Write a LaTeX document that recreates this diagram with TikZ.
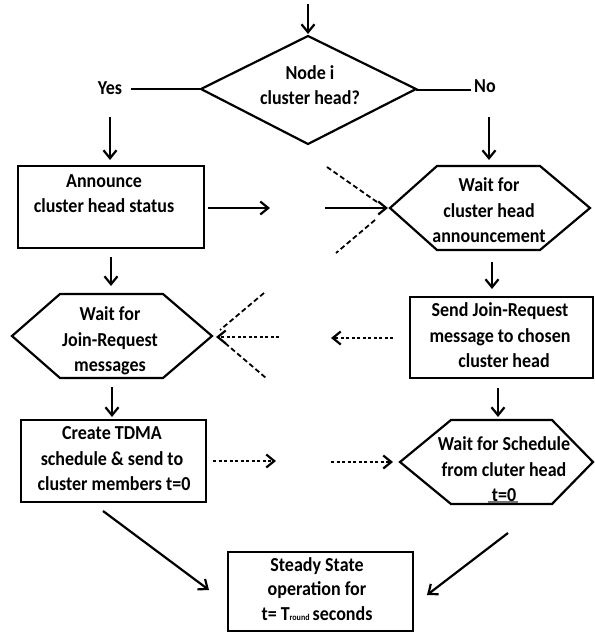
\documentclass[tikz,border=0pt]{standalone}
\usepackage{fontspec}
\usepackage{graphicx}
\setmainfont{Carlito}
\usetikzlibrary{arrows.meta}
\newcommand\mytext[1]{\scalebox{1}[1.1]{\begin{tabular}{@{}c@{}}#1\end{tabular}}}
\begin{document}
\begin{tikzpicture}[x=1pt,y=-1pt,line width=2.2pt,line join=miter,
  lbl/.style={font=\bfseries\fontsize{18}{23}\selectfont,inner sep=0pt},
  lblb/.style={font=\bfseries\fontsize{18}{22}\selectfont,inner sep=0pt},
  arr/.style={-{Straight Barb[length=8pt,width=13pt]}},
  dotarr/.style={arr,dash pattern=on 3pt off 2.5pt},
  cross/.style={line width=1.8pt,dash pattern=on 5pt off 3pt}]
\useasboundingbox (0,0) rectangle (595,633);

% shapes
\draw (308,36) -- (416,89) -- (308,144) -- (201,89) -- cycle;
\draw (18,166) rectangle (204,248);
\draw (390,208) -- (437,166) -- (540,166) -- (590,208) -- (540,250) -- (437,250) -- cycle;
\draw (12,336) -- (60,294) -- (163,294) -- (212,336) -- (163,378) -- (60,378) -- cycle;
\draw (410,297) rectangle (593,378);
\draw (21,420) rectangle (206,502);
\draw (400,462) -- (451,420) -- (552,420) -- (593,462) -- (552,504) -- (451,504) -- cycle;
\draw (228,552) rectangle (413,631);

% texts
\node[lbl] (dec) at (310,87) {\mytext{Node i\\cluster head?}};
\node[lbl] (yes) at (110,89) {\mytext{Yes}};
\node[lbl] (no) at (485,87) {\mytext{No}};
\node[lbl] (ann) at (104,195) {\mytext{Announce\\cluster head status}};
\node[lbl] (wch) at (489,212) {\mytext{Wait for\\cluster head\\announcement}};
\node[lbl] (wjr) at (110,341) {\mytext{Wait for\\Join-Request\\messages}};
\node[lbl] (sjr) at (500,337) {\mytext{Send Join-Request\\message to chosen\\\ \ cluster head}};
\node[lbl] (tdma) at (112,460) {\mytext{Create TDMA\\schedule \& send to\\\ cluster members t=0}};
\node[lbl] (wsc) at (504,471) {\mytext{Wait for Schedule\\from cluter head\\t=0}};
\node[lblb] (ss) at (317,591) {\mytext{Steady State\\operation for\\t= T\raisebox{-0.5pt}{\fontsize{8}{8}\selectfont round}\,seconds}};

% underline of t=0
\coordinate (u1) at (488,502); \coordinate (u2) at (518,502);
\draw[line width=1.3pt,black!55] (u1) -- (u2);

% connector end points
\coordinate (a1) at (308,4);   \coordinate (a2) at (308,34);
\coordinate (y1) at (131,89);  \coordinate (y2) at (201,89);
\coordinate (n1) at (416,90);  \coordinate (n2) at (471,90);
\coordinate (l1) at (110,117); \coordinate (l2) at (110,160);
\coordinate (r1) at (489,117); \coordinate (r2) at (489,160);
\coordinate (h1) at (208,208); \coordinate (h2) at (270,208);
\coordinate (h3) at (325,208); \coordinate (h4) at (388,208);
\coordinate (c1) at (327,167); \coordinate (c2) at (377,202);
\coordinate (c3) at (375,220); \coordinate (c4) at (336,253);
\coordinate (l3) at (111,257); \coordinate (l4) at (111,286);
\coordinate (r3) at (492,262); \coordinate (r4) at (492,289);
\coordinate (d1) at (279,337); \coordinate (d2) at (216,337);
\coordinate (d3) at (393,338); \coordinate (d4) at (331,338);
\coordinate (c5) at (264,293); \coordinate (c6) at (220,330);
\coordinate (c7) at (225,343); \coordinate (c8) at (266,378);
\coordinate (l5) at (112,387); \coordinate (l6) at (112,417);
\coordinate (r5) at (498,388); \coordinate (r6) at (498,417);
\coordinate (e1) at (213,461); \coordinate (e2) at (276,461);
\coordinate (e3) at (331,462); \coordinate (e4) at (393,462);
\coordinate (g1) at (103,511); \coordinate (g2) at (209,590);
\coordinate (g3) at (508,533); \coordinate (g4) at (427,595);

% connectors
\draw[arr] (a1) -- (a2);
\draw (y1) -- (y2);
\draw (n1) -- (n2);
\draw[arr] (l1) -- (l2);
\draw[arr] (r1) -- (r2);
\draw[arr] (h1) -- (h2);
\draw[arr] (h3) -- (h4);
\draw[cross] (c1) -- (c2);
\draw[cross] (c3) -- (c4);
\draw[arr] (l3) -- (l4);
\draw[arr] (r3) -- (r4);
\draw[dotarr] (d1) -- (d2);
\draw[dotarr] (d3) -- (d4);
\draw[cross] (c5) -- (c6);
\draw[cross] (c7) -- (c8);
\draw[arr] (l5) -- (l6);
\draw[arr] (r5) -- (r6);
\draw[dotarr] (e1) -- (e2);
\draw[dotarr] (e3) -- (e4);
\draw[arr] (g1) -- (g2);
\draw[arr] (g3) -- (g4);
\end{tikzpicture}
\end{document}
